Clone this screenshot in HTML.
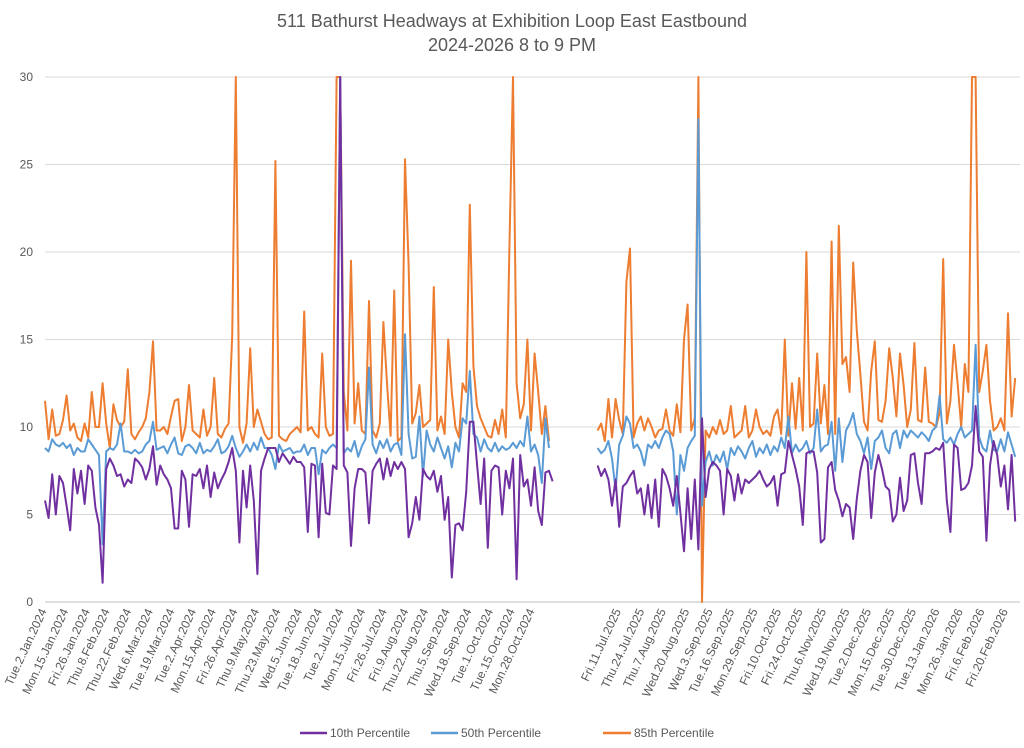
<!DOCTYPE html>
<html><head><meta charset="utf-8">
<style>
body{margin:0;background:#fff;font-family:"Liberation Sans",sans-serif;}
svg{display:block}
</style></head>
<body>
<svg id="chart" width="1024" height="748" xmlns="http://www.w3.org/2000/svg">
<rect width="1024" height="748" fill="#fff"/>
<text x="512" y="27" text-anchor="middle" font-size="18" fill="#595959">511 Bathurst Headways at Exhibition Loop East Eastbound</text>
<text x="512" y="51" text-anchor="middle" font-size="18" fill="#595959">2024-2026 8 to 9 PM</text>
<g id="grid"></g><g id="xlabels"></g><g id="series"></g>
<g>
<line x1="300" y1="733" x2="327" y2="733" stroke="#7030A0" stroke-width="2.5"/>
<text x="330" y="737" font-size="12" fill="#595959">10th Percentile</text>
<line x1="431" y1="733" x2="458" y2="733" stroke="#5B9BD5" stroke-width="2.5"/>
<text x="461" y="737" font-size="12" fill="#595959">50th Percentile</text>
<line x1="603" y1="733" x2="631" y2="733" stroke="#ED7D31" stroke-width="2.5"/>
<text x="634" y="737" font-size="12" fill="#595959">85th Percentile</text>
</g>
</svg>
<script>
const yTicks=[0,5,10,15,20,25,30];
const leftLabels=["Tue.2.Jan.2024","Mon.15.Jan.2024","Fri.26.Jan.2024","Thu.8.Feb.2024","Thu.22.Feb.2024","Wed.6.Mar.2024","Tue.19.Mar.2024","Tue.2.Apr.2024","Mon.15.Apr.2024","Fri.26.Apr.2024","Thu.9.May.2024","Thu.23.May.2024","Wed.5.Jun.2024","Tue.18.Jun.2024","Tue.2.Jul.2024","Mon.15.Jul.2024","Fri.26.Jul.2024","Fri.9.Aug.2024","Thu.22.Aug.2024","Thu.5.Sep.2024","Wed.18.Sep.2024","Tue.1.Oct.2024","Tue.15.Oct.2024","Mon.28.Oct.2024"];
const rightLabels=["Fri.11.Jul.2025","Thu.24.Jul.2025","Thu.7.Aug.2025","Wed.20.Aug.2025","Wed.3.Sep.2025","Tue.16.Sep.2025","Mon.29.Sep.2025","Fri.10.Oct.2025","Fri.24.Oct.2025","Thu.6.Nov.2025","Wed.19.Nov.2025","Tue.2.Dec.2025","Mon.15.Dec.2025","Tue.30.Dec.2025","Tue.13.Jan.2026","Mon.26.Jan.2026","Fri.6.Feb.2026","Fri.20.Feb.2026"];
const p85Left=[11.5,9.3,11,9.5,9.6,10.4,11.8,9.8,10.2,9.4,9.2,10.2,9.4,12,10,10,12.5,10.2,8.8,11.3,10.4,10,10.3,13.3,9.6,9.3,9.7,10,10.5,12,14.9,9.8,9.8,10,9.6,10.6,11.5,11.6,9.2,10,12.4,9.8,9.6,9.4,11,9.5,10,12.8,9.6,9.4,9.9,10.2,15.2,30,10,9.1,10.2,14.5,10,11,10.3,9.6,9.3,9.4,25.2,9.5,9.3,9.2,9.6,9.8,10,
9.7,16.6,9.8,10,9.6,9.4,14.2,10,9.5,9.6,30,30,12,9.8,19.5,10.2,12.5,9.8,9.6,17.2,9.8,9.4,10.2,16,12.5,9.5,17.8,9.2,9.4,25.3,19.3,10.2,10.8,12.4,10,10.2,10.4,18,9.8,10.6,9.6,15,12,10,9.4,12.5,12,22.7,13.5,11.2,10.5,10,9.5,9.4,10.4,9.6,11,9.4,20.2,30,12.5,10.5,11.3,15,9.8,14.2,12,9.6,11.2,9.2];
const p50Left=[8.8,8.6,9.3,9.0,8.9,9.1,8.8,9.0,8.4,8.8,8.6,8.6,9.3,9.0,8.7,8.4,3.3,8.6,8.8,8.7,9.0,10.2,8.6,8.6,8.5,8.7,8.5,8.6,9.0,9.2,10.3,8.7,8.8,8.9,8.5,9.0,9.4,8.5,8.4,8.9,9.0,8.8,8.5,9.1,8.5,8.7,8.6,8.9,9.3,8.5,8.6,8.9,9.5,8.8,8.3,8.6,9.0,8.6,9.1,8.7,9.4,8.8,8.8,8.4,7.6,9.0,8.6,8.7,8.8,8.5,8.6,
8.6,9.0,8.4,8.8,8.8,7.3,8.7,8.5,8.8,9.0,8.8,30,8.5,8.8,8.6,9.2,8.3,8.9,9.3,13.4,9.0,8.5,9.2,8.8,9.3,8.6,9.0,9.1,8.4,15.3,9.6,8.2,8.3,10.6,7.2,9.8,9.0,8.6,9.4,8.8,8.2,8.9,7.7,9.1,8.6,10.5,10.2,13.2,9.6,9.4,8.6,9.3,8.8,8.6,9.1,8.6,8.9,8.7,8.8,9.1,8.8,9.2,8.9,10.6,8.6,9.0,8.4,6.8,10.5,8.8];
const p10Left=[5.8,4.8,7.3,5.0,7.2,6.8,5.5,4.1,7.6,6.2,7.5,5.6,7.8,7.5,5.4,4.4,1.1,7.6,8.2,7.8,7.2,7.3,6.6,7.0,6.8,8.2,8.0,7.7,7.0,7.6,8.9,6.7,7.8,7.3,7.0,6.5,4.2,4.2,7.5,7.0,4.3,7.3,7.2,7.6,6.5,7.8,6.0,7.4,6.5,7.0,7.4,8.0,8.8,7.5,3.4,7.5,5.4,7.8,5.8,1.6,7.5,8.2,8.8,8.8,8.8,8.0,8.5,8.2,7.9,8.3,8.0,
8.0,7.7,4.0,7.9,7.8,3.7,7.9,5.1,5.0,7.8,7.6,30,7.8,7.4,3.2,6.5,7.6,7.6,7.4,4.5,7.5,7.9,8.2,7.0,8.2,7.2,8.0,7.6,8.0,7.6,3.7,4.5,6.0,4.7,7.6,7.2,7.0,7.5,6.3,7.2,4.7,6.0,1.4,4.4,4.5,4.1,6.3,10.3,10.3,7.9,5.6,8.2,3.1,7.5,7.8,7.7,5.0,7.5,6.5,8.2,1.3,8.4,6.6,7.0,5.5,7.7,5.2,4.4,7.4,7.5,6.9];
const p85Right=[9.8,10.2,9.2,11.6,9.4,11.6,10.4,9.6,18.3,20.2,9.4,10.2,10.6,9.8,10.5,10,9.4,9.8,9.9,11,9.8,9.5,11.3,9.7,15,17,9.8,10.5,30,0,9.8,9.4,10,9.6,10.4,9.6,9.8,11.2,9.4,9.6,9.8,11.2,9.4,9.8,11,10,9.6,9.8,9.5,10.6,11,9.6,15,9.5,12.5,9.9,12.8,9.8,20,10,
10.2,14.2,10.2,12.4,9.6,20.6,9.6,21.5,13.6,14,12,19.4,15.5,13,10.3,9.8,13.2,14.9,10.4,10.3,11.5,14.5,12.8,10.6,14.2,12.4,10,11,14.8,10.4,10.3,13.4,10.3,10.2,10,10.8,19.6,10.2,11.5,14.7,12.5,10,13.6,12,30,30,12,13.2,14.7,11.5,9.8,10,10.5,9.8,16.5,10.6,12.8];
const p50Right=[8.8,8.5,8.7,9.2,8.2,6.4,9.0,9.5,10.6,10.2,8.8,9.0,8.6,7.8,9.0,8.8,9.2,8.8,9.4,9.8,9.6,8.6,5.0,8.4,7.5,8.8,9.2,9.5,27.6,5.5,8.0,8.6,7.8,8.4,8.0,8.6,7.6,8.8,8.4,8.9,8.6,8.2,8.8,9.2,8.3,8.8,8.5,9.0,8.4,8.9,8.6,9.4,8.8,10.6,8.5,9.0,8.6,8.8,9.2,8.5,
8.8,11,8.6,8.9,9.0,10.3,7.5,10.5,8.0,9.8,10.2,10.8,9.6,9.2,8.5,9.4,7.6,9.2,9.4,9.8,8.8,8.5,9.6,9.8,8.8,9.8,9.4,9.8,9.6,9.4,9.7,9.5,9.2,9.8,10,11.8,9.3,9.1,9.4,9.0,9.6,10.0,9.4,9.6,9.8,14.7,9.4,8.8,8.6,9.8,8.7,8.6,9.3,8.6,9.7,9.0,8.3];
const p10Right=[7.8,7.2,7.6,7.0,5.5,7.0,4.3,6.6,6.8,7.2,7.5,6.2,6.5,5.0,6.7,4.8,7.0,4.3,7.6,7.2,6.5,5.5,7.2,5.1,2.9,6.5,3.6,7.0,3.0,10.5,6.0,7.6,8.0,7.8,7.5,5.0,7.6,7.2,5.8,7.3,6.2,7.0,6.8,7.0,7.2,7.5,7.0,6.6,6.8,7.2,5.5,7.3,7.4,9.2,8.4,7.6,6.6,4.4,8.5,8.6,
8.6,7.4,3.4,3.6,7.7,8.0,6.4,5.8,4.9,5.6,5.4,3.6,5.9,7.5,8.4,8.0,4.8,7.4,8.4,7.6,6.6,6.4,4.6,5.0,7.1,5.2,5.8,8.4,8.5,6.8,5.6,8.5,8.5,8.6,8.8,8.7,9.1,5.8,4.0,9.0,8.8,6.4,6.5,6.8,7.8,11.2,8.6,8.3,3.5,7.8,9.2,8.4,6.6,7.8,5.3,8.4,4.6];

const NS="http://www.w3.org/2000/svg";
const X0=45,SLOT=1.8,Y0=602,YTOP=77,YMAX=30,RIGHT_START=307;
function xs(slot){return X0+slot*SLOT;}
function ys(v){return Y0-(v/YMAX)*(Y0-YTOP);}
function mk(tag,attrs,parent){const e=document.createElementNS(NS,tag);for(const k in attrs)e.setAttribute(k,attrs[k]);parent.appendChild(e);return e;}

const grid=document.getElementById('grid');
yTicks.forEach(t=>{
  const l=mk('line',{x1:45,x2:1020,y1:ys(t),y2:ys(t),stroke:t===0?'#bfbfbf':'#d9d9d9','stroke-width':1},grid);
  
  
  const tx=mk('text',{x:33,y:ys(t)+4,'text-anchor':'end','font-size':12,fill:'#595959'},grid);
  tx.textContent=t;
  
  
});

const xl=document.getElementById('xlabels');
function addLabel(txt,slot){
  const x=xs(slot)+2,y=611;
  const t=mk('text',{x:x,y:y,'text-anchor':'end','font-size':12,fill:'#595959',transform:`rotate(-65 ${x} ${y})`},xl);
  t.textContent=txt;
  
  
}
leftLabels.forEach((s,k)=>addLabel(s,Math.round(k*11.8)));
rightLabels.forEach((s,k)=>addLabel(s,319+Math.round(k*12.65)));

const defs=mk('defs',{},document.getElementById('chart'));
const cp=mk('clipPath',{id:'plotclip'},defs);
mk('rect',{x:40,y:YTOP-1,width:985,height:Y0-YTOP+2},cp);

const sg=document.getElementById('series');
sg.setAttribute('clip-path','url(#plotclip)');
function drawSeries(left,right,color,name){
  let d='';
  left.forEach((v,i)=>{d+=(i?'L':'M')+xs(2*i).toFixed(1)+' '+ys(v).toFixed(1);});
  right.forEach((v,i)=>{d+=(i?'L':'M')+xs(RIGHT_START+2*i).toFixed(1)+' '+ys(v).toFixed(1);});
  const p=mk('path',{d:d,fill:'none',stroke:color,'stroke-width':2,'stroke-linejoin':'round'},sg);
  
  
}
drawSeries(p85Left,p85Right,'#ED7D31','series-85th-percentile');
drawSeries(p50Left,p50Right,'#5B9BD5','series-50th-percentile');
drawSeries(p10Left,p10Right,'#7030A0','series-10th-percentile');
</script>
</body></html>
